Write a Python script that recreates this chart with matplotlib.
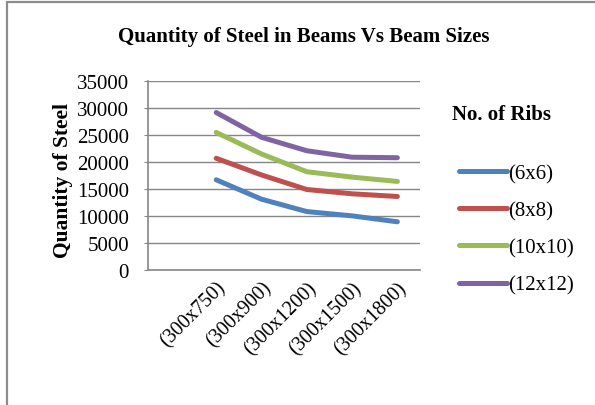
import matplotlib
matplotlib.use("Agg")
import matplotlib.pyplot as plt
import numpy as np
from matplotlib.patches import Rectangle
from matplotlib.lines import Line2D

categories = ["", "(300x750)", "(300x900)", "(300x1200)", "(300x1500)", "(300x1800)"]
series_names = ["(6x6)", "(8x8)", "(10x10)", "(12x12)"]
ribs_6x6 = [np.nan, 16700, 13100, 10800, 10000, 8900]
ribs_8x8 = [np.nan, 20700, 17600, 14900, 14100, 13600]
ribs_10x10 = [np.nan, 25500, 21500, 18200, 17200, 16400]
ribs_12x12 = [np.nan, 29200, 24600, 22100, 20900, 20800]
yticks = [0, 5000, 10000, 15000, 20000, 25000, 30000, 35000]
colors = ["#4F81BD", "#C0504D", "#9BBB59", "#8064A2"]

plt.rcParams['font.family'] = ['Liberation Serif', 'DejaVu Serif']

W, H = 595, 406
fig = plt.figure(figsize=(W/100, H/100), dpi=100)
ax = fig.add_axes([148.3/W, 1-270.7/H, (420-148.3)/W, (270.7-82.3)/H])

# border of chart area (only top/left visible)
fig.patches.append(Rectangle((7/W, -0.1), 1.2, 1-3/H+0.1, transform=fig.transFigure,
                             fill=False, edgecolor="#8c8c8c", lw=1.6))

x = np.arange(len(categories))
all_series = [ribs_6x6, ribs_8x8, ribs_10x10, ribs_12x12]
for vals, c, name in zip(all_series, colors, series_names):
    ax.plot(x, vals, color=c, lw=3.6, solid_capstyle='round', label=name)

ax.set_xlim(-0.5, len(categories)-0.5)
ax.set_ylim(0, 35000)
ax.set_yticks(yticks)
ax.set_yticklabels([str(v) for v in yticks], fontsize=15)
ax.yaxis.grid(True, color="#868686", lw=1)
ax.set_axisbelow(True)
ax.tick_params(axis='y', length=3, color="#868686", pad=11)
ax.set_xticks(x[1:])
ax.set_xticklabels(categories[1:], fontsize=14.5, rotation=45, ha='right', va='top',
                   rotation_mode='anchor')
ax.tick_params(axis='x', length=0, pad=6)
for s in ['top', 'right']:
    ax.spines[s].set_visible(False)
for s in ['left', 'bottom']:
    ax.spines[s].set_color("#868686")
    ax.spines[s].set_linewidth(1.2)

fig.text(0.5*(118+490)/W, 1-37/H, "Quantity of Steel in Beams Vs Beam Sizes",
         ha='center', va='center', fontsize=15, fontweight='bold')
fig.text(63/W, 1-180/H, "Quantity of Steel", rotation=90, ha='center', va='center',
         fontsize=15.5, fontweight='bold')
fig.text(502/W, 1-115/H, "No. of Ribs", ha='center', va='center', fontsize=15,
         fontweight='bold')

handles = [Line2D([0], [0], color=c, lw=3.6, solid_capstyle='round') for c in colors]
leg = fig.legend(handles, series_names, loc='upper left',
                 bbox_to_anchor=(459/W, 1-165/H), frameon=False, fontsize=15,
                 handlelength=2.3, handletextpad=0.05, labelspacing=0.84,
                 borderpad=0, borderaxespad=0)

fig.savefig("out.png", dpi=100)
